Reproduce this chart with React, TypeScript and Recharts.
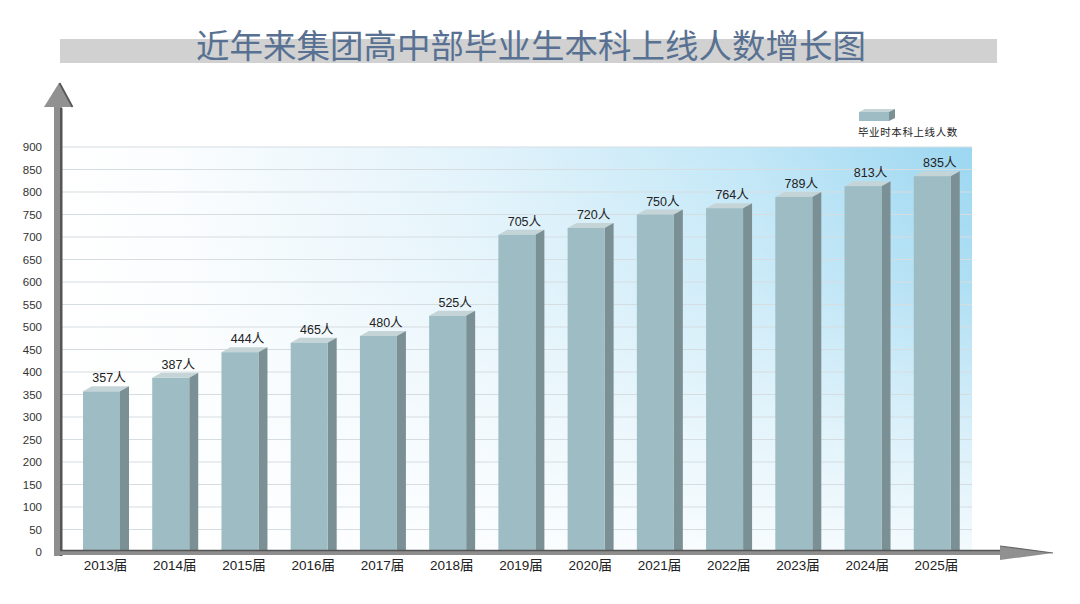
import React from 'react';
import { BarChart, Bar, XAxis, YAxis, CartesianGrid, LabelList } from 'recharts';

const title = '近年来集团高中部毕业生本科上线人数增长图';
const seriesName = '毕业时本科上线人数';
const categories = ['2013届', '2014届', '2015届', '2016届', '2017届', '2018届', '2019届', '2020届', '2021届', '2022届', '2023届', '2024届', '2025届'];
const values = [357, 387, 444, 465, 480, 525, 705, 720, 750, 764, 789, 813, 835];
const yTicks = [0, 50, 100, 150, 200, 250, 300, 350, 400, 450, 500, 550, 600, 650, 700, 750, 800, 850, 900];

const data = categories.map((c, i) => ({ year: c, value: values[i] }));

const LATIN = '"Liberation Sans", Arial, "Noto Sans CJK SC", sans-serif';
const CJK = '"Noto Sans CJK SC", "Liberation Sans", sans-serif';

const FRONT = '#9dbcc3';
const SIDE = '#7b9095';
const TOP = '#c4d4d7';

const Bar3D = (props: any) => {
  const { x, y, width, height } = props;
  if (width == null || height == null) return null;
  const dx = 9;
  const dy = 5;
  const fw = width - dx;
  return (
    <g>
      <polygon points={`${x},${y} ${x + fw},${y} ${x + width},${y - dy} ${x + dx},${y - dy}`} fill={TOP} />
      <polygon points={`${x + fw},${y} ${x + width},${y - dy} ${x + width},${y + height} ${x + fw},${y + height}`} fill={SIDE} />
      <rect x={x} y={y} width={fw} height={height} fill={FRONT} />
    </g>
  );
};

const renderLabel = (p: any) => {
  const { x, y, width, value } = p;
  return (
    <text x={Number(x) + Number(width) / 2 + 3} y={Number(y) - 9} textAnchor="middle" fontSize={12.5} fill="#222" fontFamily={LATIN}>
      {value}人
    </text>
  );
};

export default function App() {
  return (
    <div style={{ position: 'fixed', left: 0, top: 0, width: 1080, height: 604, background: '#fff' }}>
      <BarChart width={1080} height={604} data={data} margin={{ top: 147, right: 108, bottom: 22, left: 0 }}>
        <defs>
          <linearGradient id="bgH" x1="0" y1="0" x2="1" y2="0">
            <stop offset="0" stopColor="#ffffff" />
            <stop offset="0.12" stopColor="#fbfdfe" />
            <stop offset="0.45" stopColor="#e2f3fb" />
            <stop offset="0.75" stopColor="#c2e7f7" />
            <stop offset="1" stopColor="#9cd7f1" />
          </linearGradient>
          <linearGradient id="bgV" x1="0" y1="0" x2="0" y2="1">
            <stop offset="0" stopColor="#ffffff" stopOpacity={0} />
            <stop offset="0.35" stopColor="#ffffff" stopOpacity={0.2} />
            <stop offset="0.7" stopColor="#ffffff" stopOpacity={0.6} />
            <stop offset="1" stopColor="#ffffff" stopOpacity={0.88} />
          </linearGradient>
          <pattern id="bgPat" patternUnits="objectBoundingBox" patternContentUnits="objectBoundingBox" x="0" y="0" width="1" height="1">
            <rect x="0" y="0" width="1" height="1" fill="url(#bgH)" />
            <rect x="0" y="0" width="1" height="1" fill="url(#bgV)" />
          </pattern>
        </defs>
        <CartesianGrid vertical={false} stroke="#d6dde1" fill="url(#bgPat)" fillOpacity={1} />
        <XAxis
          dataKey="year"
          axisLine={false}
          tickLine={false}
          interval={0}
          padding={{ left: 9, right: 1 }}
          tick={{ fontSize: 13.5, fill: '#222', fontFamily: LATIN }}
        />
        <YAxis
          width={62}
          domain={[0, 900]}
          ticks={yTicks}
          interval={0}
          axisLine={false}
          tickLine={false}
          tickSize={6}
          tickMargin={14}
          tick={{ fontSize: 11.5, fill: '#333', fontFamily: LATIN }}
        />
        <Bar dataKey="value" name={seriesName} barSize={46} shape={Bar3D} isAnimationActive={false}>
          <LabelList dataKey="value" content={renderLabel} />
        </Bar>
      </BarChart>
      <svg width={1080} height={604} style={{ position: 'absolute', left: 0, top: 0, pointerEvents: 'none' }}>
        <rect x={60} y={39} width={937} height={24} fill="#d1d1d1" />
        <text x={531} y={43} textAnchor="middle" dominantBaseline="central" fontSize={33.5} fill="#587192" fontFamily={CJK}>
          {title}
        </text>
        {/* y axis arrow */}
        <rect x={54} y={105} width={8} height={451} fill="#8e8e8e" />
        <rect x={60} y={108} width={2.5} height={448} fill="#555" />
        <polygon points="44,107 59,83 72,107" fill="#919191" />
        <line x1={59.5} y1={83} x2={72.5} y2={107} stroke="#555" strokeWidth={1.8} />
        {/* x axis arrow */}
        <rect x={54} y={550} width={948} height={5} fill="#8e8e8e" />
        <line x1={60} y1={550.5} x2={1000} y2={550.5} stroke="#555" strokeWidth={1.5} />
        <polygon points="1000,546 1053,553 1000,560" fill="#909090" />
        <line x1={1000} y1={546} x2={1053} y2={553} stroke="#666" strokeWidth={1.2} />
        {/* legend */}
        <polygon points="859,112 889,112 895,109 865,109" fill={TOP} />
        <polygon points="889,112 895,109 895,118 889,121" fill={SIDE} />
        <rect x={859} y={112} width={30} height={9} fill={FRONT} />
        <text x={858} y={131.5} dominantBaseline="central" fontSize={10.5} letterSpacing={0.6} fill="#222" fontFamily={CJK}>
          {seriesName}
        </text>
      </svg>
    </div>
  );
}
